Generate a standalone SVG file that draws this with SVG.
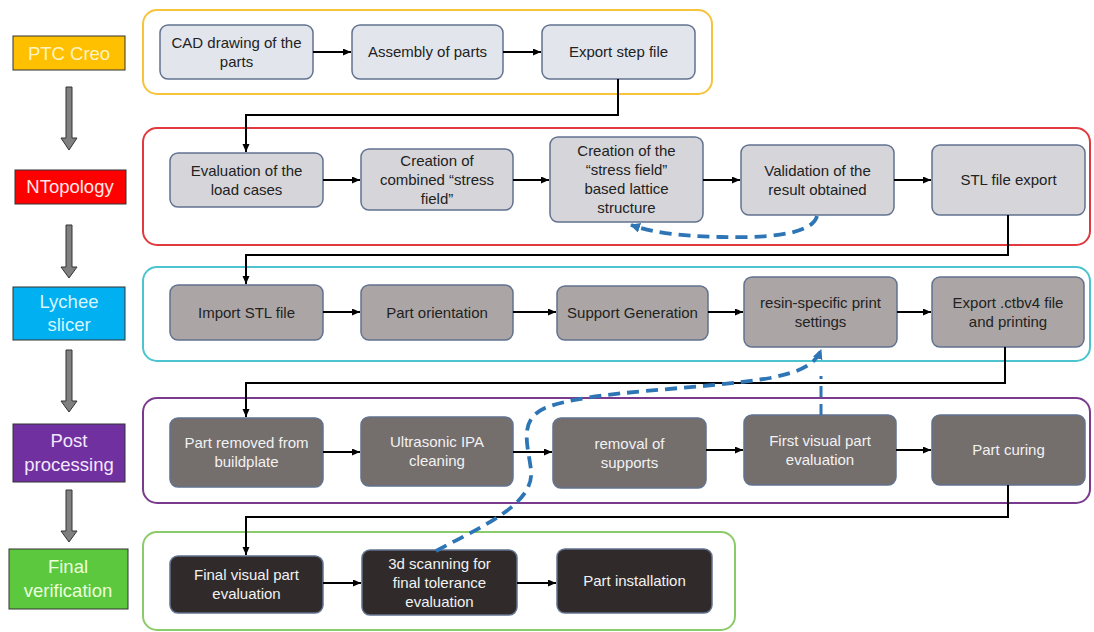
<svg xmlns="http://www.w3.org/2000/svg" width="1094" height="632" viewBox="0 0 1094 632">
<defs>
<style>
text{font-family:"Liberation Sans",Arial,sans-serif;text-anchor:middle}
.n{font-size:15px}
.dk{fill:#222}
.lt{fill:#f2f2f2}
.lab{font-size:18.5px}
.cont{fill:none;stroke-width:2}
.node{stroke:#62728f;stroke-width:1.5}
.r1{fill:#e2e5ec}.r2{fill:#d6d6da}.r3{fill:#aba6a5}.r4{fill:#746e6d}.r5{fill:#302b2a}
.con{fill:none;stroke:#000;stroke-width:2;marker-end:url(#ah)}
.dash{fill:none;stroke:#2e75b6;stroke-width:3.8;stroke-dasharray:12 7;marker-end:url(#bh)}
.big{fill:#808080;stroke:#333;stroke-width:1}
.lbox{stroke:#333;stroke-width:1}
</style>
<marker id="ah" markerUnits="userSpaceOnUse" markerWidth="9" markerHeight="8" refX="8" refY="3.5" orient="auto"><path d="M0,0 L8,3.5 L0,7 z" fill="#000"/></marker>
<marker id="bh" markerUnits="userSpaceOnUse" markerWidth="12" markerHeight="12" refX="9" refY="5" orient="auto"><path d="M0,0 L10,5 L0,10 z" fill="#2e75b6"/></marker>
</defs>
<rect width="1094" height="632" fill="#fff"/>

<g id="containers">
<rect class="cont" x="143" y="10" width="569" height="84" rx="14" stroke="#f6c33b"/>
<rect class="cont" x="143" y="128" width="947" height="117" rx="14" stroke="#e0393e"/>
<rect class="cont" x="143" y="267" width="947" height="94" rx="14" stroke="#4bc4cf"/>
<rect class="cont" x="143" y="398" width="947" height="105" rx="14" stroke="#7a3b8f"/>
<rect class="cont" x="143" y="532" width="592" height="98" rx="14" stroke="#8ccb6a"/>
</g>

<g id="stage-labels">
<g id="lab-ptc"><rect class="lbox" x="13" y="36" width="112" height="34" fill="#ffc000"/><text class="lab" x="69" y="60" fill="#fff3c4">PTC Creo</text></g>
<g id="lab-ntop"><rect class="lbox" x="15" y="170" width="111" height="34" fill="#ff0000"/><text class="lab" x="70" y="193" fill="#ffe6e6">NTopology</text></g>
<g id="lab-lychee"><rect class="lbox" x="13" y="287" width="112" height="53" fill="#00b0f0"/><text class="lab" x="69" y="308" fill="#d6f5ff">Lychee</text><text class="lab" x="69" y="331" fill="#d6f5ff">slicer</text></g>
<g id="lab-post"><rect class="lbox" x="13" y="424" width="112" height="58" fill="#7030a0"/><text class="lab" x="69" y="447" fill="#f3e8ff">Post</text><text class="lab" x="69" y="471" fill="#f3e8ff">processing</text></g>
<g id="lab-final"><rect class="lbox" x="9" y="549" width="119" height="60" fill="#5cc83d"/><text class="lab" x="68" y="573" fill="#eaffdd">Final</text><text class="lab" x="68" y="597" fill="#eaffdd">verification</text></g>
</g>

<g id="stage-arrows">
<path class="big" d="M66,87 H72 V138 H77 L69,150 L61,138 H66 Z"/>
<path class="big" d="M66,225 H72 V267 H77 L69,278 L61,267 H66 Z"/>
<path class="big" d="M66,350 H72 V401 H77 L69,412 L61,401 H66 Z"/>
<path class="big" d="M66,490 H72 V531 H77 L69,542 L61,531 H66 Z"/>
</g>

<g id="n-cad"><rect class="node r1" x="160" y="25" width="153" height="54" rx="8"/><text class="n dk" x="236.5" y="47.5">CAD drawing of the</text><text class="n dk" x="236.5" y="66.5">parts</text></g>
<g id="n-assembly"><rect class="node r1" x="352" y="25" width="151" height="54" rx="8"/><text class="n dk" x="427.5" y="57">Assembly of parts</text></g>
<g id="n-exportstep"><rect class="node r1" x="542" y="25" width="153" height="54" rx="8"/><text class="n dk" x="618.5" y="57">Export step file</text></g>

<g id="n-eval"><rect class="node r2" x="170" y="153" width="153" height="54" rx="8"/><text class="n dk" x="246.5" y="175.5">Evaluation of the</text><text class="n dk" x="246.5" y="194.5">load cases</text></g>
<g id="n-combined"><rect class="node r2" x="361" y="149" width="152" height="61" rx="8"/><text class="n dk" x="437" y="165.5">Creation of</text><text class="n dk" x="437" y="184.5">combined “stress</text><text class="n dk" x="437" y="203.5">field”</text></g>
<g id="n-lattice"><rect class="node r2" x="550" y="137" width="153" height="85" rx="8"/><text class="n dk" x="626.5" y="156">Creation of the</text><text class="n dk" x="626.5" y="175">“stress field”</text><text class="n dk" x="626.5" y="194">based lattice</text><text class="n dk" x="626.5" y="213">structure</text></g>
<g id="n-validation"><rect class="node r2" x="741" y="145" width="153" height="70" rx="8"/><text class="n dk" x="817.5" y="175.5">Validation of the</text><text class="n dk" x="817.5" y="194.5">result obtained</text></g>
<g id="n-stlexport"><rect class="node r2" x="932" y="145" width="153" height="70" rx="8"/><text class="n dk" x="1008.5" y="185">STL file export</text></g>

<g id="n-import"><rect class="node r3" x="170" y="285" width="153" height="55" rx="8"/><text class="n dk" x="246.5" y="317.5">Import STL file</text></g>
<g id="n-orient"><rect class="node r3" x="361" y="285" width="152" height="55" rx="8"/><text class="n dk" x="437" y="317.5">Part orientation</text></g>
<g id="n-support"><rect class="node r3" x="557" y="286" width="151" height="54" rx="8"/><text class="n dk" x="632.5" y="317.5">Support Generation</text></g>
<g id="n-resin"><rect class="node r3" x="744" y="277" width="153" height="70" rx="8"/><text class="n dk" x="820.5" y="307.5">resin-specific print</text><text class="n dk" x="820.5" y="326.5">settings</text></g>
<g id="n-ctbv4"><rect class="node r3" x="932" y="277" width="152" height="70" rx="8"/><text class="n dk" x="1008" y="307.5">Export .ctbv4 file</text><text class="n dk" x="1008" y="326.5">and printing</text></g>

<g id="n-removed"><rect class="node r4" x="170" y="418" width="153" height="69" rx="8"/><text class="n lt" x="246.5" y="448">Part removed from</text><text class="n lt" x="246.5" y="467">buildplate</text></g>
<g id="n-ultrasonic"><rect class="node r4" x="361" y="417" width="152" height="69" rx="8"/><text class="n lt" x="437" y="447">Ultrasonic IPA</text><text class="n lt" x="437" y="466">cleaning</text></g>
<g id="n-removal"><rect class="node r4" x="553" y="418" width="153" height="70" rx="8"/><text class="n lt" x="629.5" y="448.5">removal of</text><text class="n lt" x="629.5" y="467.5">supports</text></g>
<g id="n-firstvisual"><rect class="node r4" x="744" y="415" width="152" height="70" rx="8"/><text class="n lt" x="820" y="445.5">First visual part</text><text class="n lt" x="820" y="464.5">evaluation</text></g>
<g id="n-curing"><rect class="node r4" x="932" y="415" width="153" height="70" rx="8"/><text class="n lt" x="1008.5" y="455">Part curing</text></g>

<g id="n-finalvisual"><rect class="node r5" x="170" y="556" width="153" height="57" rx="8"/><text class="n lt" x="246.5" y="580">Final visual part</text><text class="n lt" x="246.5" y="599">evaluation</text></g>
<g id="n-scanning"><rect class="node r5" x="362" y="550" width="155" height="65" rx="8"/><text class="n lt" x="439.5" y="568.5">3d scanning for</text><text class="n lt" x="439.5" y="587.5">final tolerance</text><text class="n lt" x="439.5" y="606.5">evaluation</text></g>
<g id="n-install"><rect class="node r5" x="557" y="549" width="155" height="64" rx="8"/><text class="n lt" x="634.5" y="586">Part installation</text></g>

<g id="connectors">
<path class="con" d="M313,52 H351"/>
<path class="con" d="M503,52 H541"/>
<path class="con" d="M618,79 V115 H246 V152"/>
<path class="con" d="M323,180 H360"/>
<path class="con" d="M513,180 H549"/>
<path class="con" d="M703,180 H740"/>
<path class="con" d="M894,180 H931"/>
<path class="con" d="M1008,215 V255 H246 V284"/>
<path class="con" d="M323,312 H360"/>
<path class="con" d="M513,312 H556"/>
<path class="con" d="M708,312 H743"/>
<path class="con" d="M897,312 H931"/>
<path class="con" d="M1005,347 V383 H246 V417"/>
<path class="con" d="M323,452 H360"/>
<path class="con" d="M513,452 H552"/>
<path class="con" d="M706,450 H743"/>
<path class="con" d="M896,450 H931"/>
<path class="con" d="M1008,485 V517 H246 V555"/>
<path class="con" d="M323,583 H361"/>
<path class="con" d="M517,583 H556"/>
<path class="dash" d="M817,216 C812,236 760,238 720,237 C680,236 655,233 631,225"/>
<path class="dash" d="M436,551 C480,527 535,505 531,470 C528,445 518,420 545,408 C590,390 700,390 770,378 C800,372 815,365 821,350"/>
<path d="M821,415 V376" fill="none" stroke="#2e75b6" stroke-width="3" stroke-dasharray="11 7"/>
</g>
</svg>
